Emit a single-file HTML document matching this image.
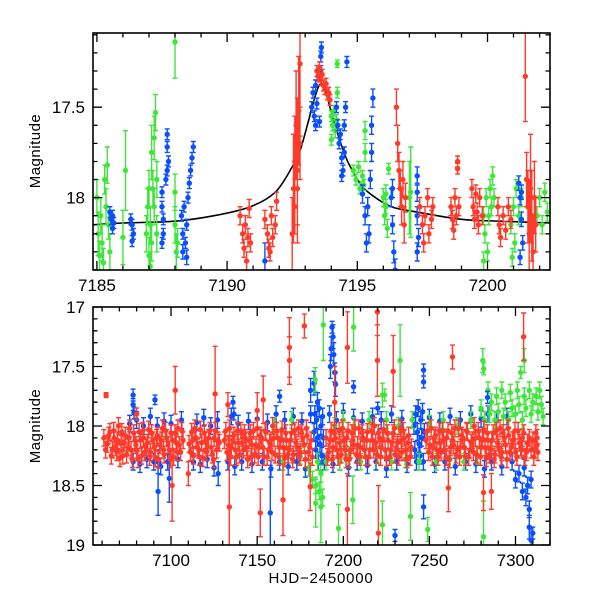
<!DOCTYPE html>
<html><head><meta charset="utf-8"><style>
html,body{margin:0;padding:0;background:#fff}
svg{display:block;font-family:"Liberation Sans",sans-serif}
</style></head><body>
<svg id="chart" width="600" height="600" viewBox="0 0 600 600" xmlns="http://www.w3.org/2000/svg">
<defs>
<clipPath id="clipTop"><rect x="93" y="33" width="457" height="237"/></clipPath>
<clipPath id="clipBot"><rect x="93" y="307" width="457" height="238"/></clipPath>
</defs>
<g id="top"></g>
<g id="bot"></g>
<text x="40" y="151" transform="rotate(-90 40 151)" text-anchor="middle" font-size="15" letter-spacing="0.5">Magnitude</text>
<text x="40" y="426" transform="rotate(-90 40 426)" text-anchor="middle" font-size="15" letter-spacing="0.5">Magnitude</text>
<text x="321" y="583" text-anchor="middle" font-size="15" letter-spacing="0.8">HJD−2450000</text>
</svg>
<script>
// ---------- top panel data [t, mag, err] ----------
const greenTop = [
[7185.0,18.0,.1],[7185.05,18.2,.12],[7185.1,18.32,.08],[7185.15,18.1,.1],[7185.2,18.25,.1],[7185.25,18.36,.08],[7185.3,17.9,.08],[7185.35,18.05,.1],[7185.4,17.82,.1],[7185.45,18.15,.08],[7185.5,18.3,.1],
[7186.0,18.22,.15],[7186.1,17.85,.22],
[7186.9,18.2,.1],[7186.95,18.05,.1],[7187.0,18.32,.1],[7187.0,17.95,.1],[7187.05,18.15,.1],[7187.1,17.75,.15],[7187.1,18.25,.1],[7187.15,17.95,.1],[7187.2,18.05,.1],[7187.2,17.67,.12],[7187.25,17.53,.1],[7187.3,17.9,.1],[7187.3,18.2,.1],[7187.05,18.38,.08],
[7188.0,17.14,.2],[7188.0,18.15,.1],[7188.05,18.3,.1],[7188.0,17.97,.1],[7188.1,18.25,.08],
[7194.0,17.55,.03],[7194.05,17.6,.03],[7194.1,17.52,.03],[7194.15,17.63,.04],[7194.2,17.57,.03],[7194.23,17.42,.03],[7194.23,17.26,.02],[7194.0,17.68,.03],
[7194.85,17.85,.03],[7194.95,17.9,.03],[7195.05,17.83,.03],[7195.1,17.95,.03],[7195.2,17.88,.03],[7195.25,17.93,.03],[7195.3,17.63,.05],[7195.3,17.75,.05],
[7196.0,18.0,.05],[7196.05,18.1,.05],[7196.1,17.98,.05],[7196.15,18.17,.05],[7196.2,17.84,.03],[7196.1,18.05,.04],
[7197.0,18.0,.2],[7197.05,17.97,.25],
[7199.85,18.1,.05],[7199.9,18.2,.05],[7199.95,18.0,.05],[7200.0,18.3,.05],[7200.05,18.1,.05],[7200.1,17.95,.05],[7200.15,18.05,.05],[7200.2,17.88,.05],[7200.25,18.0,.05],[7199.85,18.35,.05],
[7200.9,18.15,.05],[7201.0,18.05,.05],[7201.05,18.25,.05],[7201.1,17.95,.05],[7201.2,18.1,.05],[7201.3,18.0,.05],[7200.95,18.33,.05],
[7201.9,18.1,.05],[7202.0,18.0,.05],[7202.1,18.15,.05],[7202.2,17.97,.05],[7202.3,18.08,.05]
];
const blueTop = [
[7185.5,18.08,.03],[7185.55,18.12,.03],[7185.6,18.1,.03],[7185.6,18.17,.03],[7185.65,18.14,.03],
[7186.3,18.12,.03],[7186.35,18.15,.03],[7186.4,18.2,.03],[7186.35,18.24,.03],
[7187.5,17.97,.03],[7187.5,18.05,.03],[7187.55,18.12,.03],[7187.55,18.2,.03],[7187.5,18.25,.03],[7187.7,17.65,.03],[7187.7,17.72,.03],[7187.75,17.8,.03],[7187.7,17.85,.03],[7187.65,17.9,.03],
[7188.25,18.1,.03],[7188.3,18.2,.03],[7188.3,18.3,.04],[7188.35,18.05,.03],[7188.4,18.25,.03],[7188.45,18.15,.03],[7188.5,18.0,.03],[7188.55,17.92,.03],[7188.6,17.85,.03],[7188.65,17.78,.03],[7188.7,17.72,.03],[7188.45,18.33,.04],
[7191.45,18.35,.1],
[7193.25,17.5,.03],[7193.3,17.42,.03],[7193.35,17.55,.03],[7193.4,17.38,.03],[7193.45,17.48,.03],[7193.5,17.33,.03],[7193.55,17.58,.03],[7193.6,17.3,.03],[7193.6,17.22,.03],[7193.62,17.17,.03],[7193.4,17.6,.03],
[7194.6,17.25,.03],
[7194.2,17.5,.03],[7194.25,17.6,.03],[7194.3,17.7,.03],[7194.35,17.65,.03],[7194.4,17.78,.03],[7194.45,17.85,.03],[7194.5,17.75,.03],[7194.55,17.5,.03],[7194.5,17.6,.03],[7194.4,17.88,.03],
[7195.2,17.98,.05],[7195.3,18.1,.05],[7195.35,18.25,.05],[7195.4,18.05,.05],[7195.5,17.9,.05],[7195.55,17.6,.05],[7195.6,17.45,.05],[7195.45,18.2,.05],[7195.55,17.75,.05],
[7196.3,18.0,.05],[7196.35,18.15,.05],[7196.4,18.3,.06],[7196.45,18.4,.06],[7196.35,17.95,.05],
[7197.3,17.88,.05],[7197.3,18.1,.05],[7197.35,18.22,.05],[7197.3,18.3,.05],[7197.3,17.97,.05],
[7201.2,17.92,.04],[7201.25,18.0,.04],[7201.3,18.12,.04],[7201.35,18.25,.04],[7201.25,18.33,.04],[7201.3,17.97,.04]
];
const redTop = [
[7190.5,18.1,.05],[7190.6,18.2,.05],[7190.65,18.28,.05],[7190.7,18.15,.05],[7190.75,18.35,.05],[7190.8,18.22,.05],[7190.85,18.06,.05],[7190.9,18.25,.05],
[7191.45,18.12,.05],[7191.55,18.2,.05],[7191.6,18.28,.05],[7191.7,18.1,.05],[7191.75,18.22,.05],[7191.85,18.15,.05],[7191.9,18.02,.05],[7191.65,18.3,.05],
[7192.5,18.2,.2],[7192.55,17.95,.3],[7192.6,17.8,.25],[7192.65,17.6,.3],[7192.7,17.85,.4],[7192.75,17.52,.3],[7192.8,17.26,.4],[7192.8,17.7,.2],[7192.6,18.05,.15],[7192.7,17.95,.2],
[7193.45,17.3,.03],[7193.5,17.33,.03],[7193.55,17.28,.03],[7193.6,17.35,.03],[7193.65,17.32,.03],[7193.7,17.38,.03],[7193.75,17.4,.03],[7193.8,17.37,.03],[7193.85,17.43,.03],[7193.9,17.42,.03],[7193.95,17.46,.03],
[7196.5,17.5,.1],[7196.55,17.7,.1],[7196.6,17.85,.1],[7196.65,17.95,.1],[7196.7,18.05,.1],[7196.75,17.9,.1],[7196.8,18.15,.1],[7196.85,18.0,.08],
[7197.4,18.05,.05],[7197.5,18.15,.05],[7197.55,18.25,.05],[7197.6,18.1,.05],[7197.7,18.0,.05],[7197.75,18.2,.05],[7197.85,18.12,.05],[7197.9,18.05,.05],
[7198.6,18.05,.05],[7198.65,18.12,.05],[7198.7,18.18,.05],[7198.75,18.0,.05],[7198.8,18.1,.05],[7198.85,17.8,.03],[7198.85,17.84,.03],[7198.9,18.05,.05],
[7199.4,17.95,.05],[7199.45,18.05,.05],[7199.5,18.12,.05],[7199.55,17.98,.05],[7199.6,18.08,.05],[7199.65,18.15,.05],[7199.7,18.0,.05],[7199.8,18.1,.05],
[7200.4,18.05,.05],[7200.45,18.15,.05],[7200.5,18.22,.05],[7200.6,18.1,.05],[7200.7,18.18,.05],[7200.8,18.05,.05],[7200.9,18.12,.05],
[7201.45,17.33,.25],[7201.5,17.9,.15],[7201.55,18.05,.2],[7201.6,18.2,.3],[7201.65,17.95,.3],[7201.7,18.1,.25],[7201.75,18.3,.2],[7201.8,18.0,.2],[7201.85,18.15,.15]
];
// model curve
const modelT = [7184.85,7186,7188,7189.5,7190.9,7191.85,7192.5,7192.8,7193.1,7193.3,7193.5,7193.65,7193.8,7194.1,7194.54,7194.85,7195.2,7195.6,7196.3,7197.3,7199,7200.5,7202.4];
const modelM = [18.15,18.14,18.13,18.10,18.05,17.97,17.83,17.74,17.59,17.48,17.39,17.37,17.42,17.58,17.77,17.86,17.94,17.99,18.05,18.08,18.12,18.13,18.14];

// ---------- bottom panel data ----------
const redBand = [[7061,18.1],[7063,18.15],[7064.5,18.05],[7066,18.2],[7067,18.1],[7068.5,18.22],[7069.5,18.0],[7071,18.15],[7072,18.25],[7073.5,18.08],[7075,18.18],[7076,18.02],[7077.5,18.28],[7079,18.12],[7080,18.2],[7081.5,18.05],[7083,18.25],[7084,18.1],[7085.5,18.18],[7087,18.03],[7088,18.22],[7089.5,18.12],[7091,18.27],[7092,18.08],[7093.5,18.16],[7095,18.02],[7096,18.24],[7097.5,18.1],[7099,18.2],[7100,18.06],[7101.5,18.26],[7103,18.14],[7104,18.02],[7105.5,18.22],[7107,18.12],
[7110.5,18.15],[7112,18.05],[7113,18.25],[7114.5,18.1],[7116,18.2],[7117,18.03],[7118.5,18.27],[7120,18.12],[7121,18.18],[7122.5,18.04],[7124,18.24],[7125,18.1],[7126.5,18.2],[7128,18.14],
[7131,18.12],[7132.5,18.22],[7134,18.02],[7135,18.18],[7136.5,18.08],[7138,18.26],[7139,18.14],[7140.5,18.04],[7142,18.2],[7143,18.1],[7144.5,18.28],[7146,18.06],[7147,18.16],[7148.5,18.24],[7150,18.02],[7151,18.18],[7152.5,18.1],[7154,18.26],[7155,18.05],[7156.5,18.2],[7158,18.12],[7159,18.0],[7160.5,18.24],[7162,18.1],[7163,18.18],[7164.5,18.03],[7166,18.27],[7167,18.12],[7168.5,18.2],[7170,18.06],[7171,18.24],[7172.5,18.14],[7174,18.02],[7175,18.22],[7176.5,18.1],[7178,18.28],[7179,18.08],[7180.5,18.18],[7182,18.26],
[7190,18.1],[7191.5,18.22],[7193,18.04],[7194,18.18],[7195.5,18.1],[7197,18.26],[7198,18.14],[7199.5,18.02],[7201,18.2],[7202,18.1],[7203.5,18.28],[7205,18.06],[7206,18.16],[7207.5,18.24],[7209,18.02],[7210,18.18],[7211.5,18.1],[7213,18.26],[7214,18.05],[7215.5,18.2],[7217,18.12],[7218,18.0],[7219.5,18.24],[7221,18.1],[7222,18.18],[7223.5,18.03],[7225,18.27],[7226,18.12],[7227.5,18.2],[7229,18.06],[7230,18.24],[7231.5,18.14],[7233,18.02],[7234,18.22],[7235.5,18.1],[7237,18.28],[7238,18.08],[7239.5,18.18],
[7248,18.12],[7249.5,18.22],[7251,18.02],[7252,18.18],[7253.5,18.08],[7255,18.26],[7256,18.14],[7257.5,18.04],[7259,18.2],[7260,18.1],[7261.5,18.28],[7263,18.06],[7264,18.16],[7265.5,18.24],[7267,18.02],[7268,18.18],[7269.5,18.1],[7271,18.26],[7272,18.05],[7273.5,18.2],[7275,18.12],[7276,18.0],[7277.5,18.24],[7279,18.1],[7280,18.18],[7281.5,18.03],[7283,18.27],[7284,18.12],[7285.5,18.2],[7287,18.06],[7288,18.24],[7289.5,18.14],[7291,18.02],[7292,18.22],[7293.5,18.1],[7295,18.28],[7296,18.08],[7297.5,18.18],[7299,18.12],[7300,18.22],[7301.5,18.04],[7303,18.18],[7304,18.1],[7305.5,18.26],[7307,18.14],[7310,18.12],[7311,18.2],[7312.5,18.1],[7313,18.22]];
const redBand2 = [[7062,18.2],[7063.8,18.08],[7065.3,18.25],[7066.7,18.04],[7068,18.18],[7069,18.12],[7070.3,18.27],[7071.5,18.05],[7072.8,18.14],[7074.2,18.24],[7075.6,18.1],[7076.8,18.2],[7078.3,18.06],[7079.6,18.16],[7080.8,18.28],[7082.3,18.12],[7083.6,18.04],[7084.8,18.22],[7086.3,18.14],[7087.6,18.26],[7088.8,18.06],[7090.3,18.18],[7091.6,18.1],[7092.8,18.28],[7094.3,18.12],[7095.6,18.2],[7096.8,18.04],[7098.3,18.16],[7099.6,18.28],[7100.8,18.12],[7102.3,18.06],[7103.6,18.22],[7104.8,18.16],[7106.3,18.04],
[7111.3,18.22],[7112.6,18.12],[7113.8,18.02],[7115.3,18.18],[7116.6,18.26],[7117.8,18.14],[7119.3,18.06],[7120.6,18.22],[7121.8,18.1],[7123.3,18.18],[7124.6,18.28],[7125.8,18.04],[7127.3,18.12],
[7131.8,18.04],[7133.3,18.16],[7134.6,18.26],[7135.8,18.12],[7137.3,18.2],[7138.6,18.04],[7139.8,18.24],[7141.3,18.14],[7142.6,18.06],[7143.8,18.18],[7145.3,18.12],[7146.6,18.26],[7147.8,18.04],[7149.3,18.16],[7150.6,18.26],[7151.8,18.08],[7153.3,18.18],[7154.6,18.04],[7155.8,18.26],[7157.3,18.14],[7158.6,18.22],[7159.8,18.1],[7161.3,18.04],[7162.6,18.26],[7163.8,18.12],[7165.3,18.18],[7166.6,18.06],[7167.8,18.24],[7169.3,18.12],[7170.6,18.28],[7171.8,18.04],[7173.3,18.18],[7174.6,18.26],[7175.8,18.06],[7177.3,18.16],[7178.6,18.02],[7179.8,18.22],[7181.3,18.12],
[7190.8,18.26],[7192.3,18.12],[7193.6,18.28],[7194.8,18.06],[7196.3,18.2],[7197.6,18.04],[7198.8,18.24],[7200.3,18.12],[7201.6,18.28],[7202.8,18.04],[7204.3,18.2],[7205.6,18.12],[7206.8,18.02],[7208.3,18.16],[7209.6,18.26],[7210.8,18.06],[7212.3,18.2],[7213.6,18.12],[7214.8,18.26],[7216.3,18.04],[7217.6,18.2],[7218.8,18.14],[7220.3,18.06],[7221.6,18.26],[7222.8,18.12],[7224.3,18.2],[7225.6,18.06],[7226.8,18.26],[7228.3,18.14],[7229.6,18.02],[7230.8,18.18],[7232.3,18.26],[7233.6,18.12],[7234.8,18.04],[7236.3,18.2],[7237.6,18.14],[7238.8,18.26],
[7248.8,18.04],[7250.3,18.16],[7251.6,18.26],[7252.8,18.1],[7254.3,18.2],[7255.6,18.04],[7256.8,18.22],[7258.3,18.12],[7259.6,18.26],[7260.8,18.04],[7262.3,18.18],[7263.6,18.12],[7264.8,18.02],[7266.3,18.2],[7267.6,18.26],[7268.8,18.08],[7270.3,18.18],[7271.6,18.04],[7272.8,18.26],[7274.3,18.14],[7275.6,18.22],[7276.8,18.1],[7278.3,18.04],[7279.6,18.26],[7280.8,18.12],[7282.3,18.18],[7283.6,18.06],[7284.8,18.24],[7286.3,18.12],[7287.6,18.28],[7288.8,18.04],[7290.3,18.18],[7291.6,18.26],[7292.8,18.06],[7294.3,18.16],[7295.6,18.02],[7296.8,18.22],[7298.3,18.12],[7299.6,18.04],[7300.8,18.26],[7302.3,18.14],[7303.6,18.2],[7304.8,18.06],[7306.3,18.22],[7308,18.1],[7309,18.2],[7310.6,18.26],[7311.8,18.06],[7312.2,18.16]];
const redOut = [[7062.3,17.74,.02],[7102.4,17.7,.2],[7100.6,18.5,.3],[7125.6,17.73,.4],[7133.8,18.68,.6],[7133,17.82,.1],[7177.4,17.16,.1],[7168.7,17.34,.25],[7168.7,17.45,.2],[7202.4,17.34,.3],[7219.8,17.04,.2],[7219.8,17.45,.3],[7229,17.54,.3],[7153.5,17.78,.2],[7150,17.87,.15],[7151.8,18.73,.2],[7165,18.62,.3],[7180.8,18.51,.2],[7202.4,18.7,.3],[7220.4,18.9,.4],[7263.4,17.42,.1],[7261,18.52,.2],[7304.7,17.25,.2],[7281.4,18.56,.15],[7286,18.55,.15],[7080,17.9,.05],[7110,18.4,.1],[7195,17.8,.3]];
const blueBand = [[7076,17.98],[7078,18.3],[7080,17.95],[7082,18.32],[7084,18.0],[7086,18.28],[7088,17.92],[7090,18.3],[7092,18.0],[7094,18.34],[7096,17.96],[7098,18.3],[7100,17.98],[7104,18.28],[7106,17.95],[7113,18.3],[7115,17.97],[7117,18.32],[7119,17.93],[7121,18.28],[7123,18.0],[7125,18.35],[7127,17.95],[7133,18.3],[7135,17.92],[7137,18.34],[7139,17.98],[7141,18.3],[7145,17.96],[7147,18.32],[7150,17.94],[7153,18.3],[7156,17.97],[7158,18.36],[7161,17.9],[7163,18.3],[7166,17.95],[7168,18.34],[7171,17.92],[7173,18.3],[7176,17.96],[7178,18.36],[7181,17.9],
[7183,18.05],[7183.5,17.9],[7184,18.2],[7184.5,17.95],[7185,18.1],[7185.5,18.3],[7186,17.85],[7186.5,18.15],[7187,18.0],[7187.5,18.25],[7188,17.92],[7188.5,18.1],[7189,18.3],
[7192,17.9],[7194,18.32],[7196,17.95],[7198,18.3],[7200,17.88],[7203,18.35],[7206,17.93],[7208,18.3],[7211,17.96],[7214,18.33],[7217,17.92],[7219,18.3],[7222,17.95],[7225,18.36],[7228,17.9],[7231,18.3],[7234,17.94],[7237,18.32],
[7241,18.0],[7241.5,18.2],[7242,17.9],[7242.5,18.3],[7243,18.05],[7243.5,17.85],[7244,18.15],[7244.5,18.25],[7245,17.95],[7245.5,18.1],[7246,17.88],[7246.5,18.3],[7247,18.05],
[7250,17.93],[7253,18.32],[7256,17.96],[7259,18.3],[7262,17.92],[7265,18.34],[7268,17.95],[7271,18.3],[7274,17.9],[7277,18.32],[7280,17.94],[7282,18.36],[7284,17.9],[7286,18.3],[7289,17.95],[7292,18.34],[7295,17.92],[7298,18.3],[7300,18.45],[7302,18.4],[7304,18.55],[7305,18.35],[7306,18.6],[7307,18.5],[7308,18.7],[7309,18.45]];
const blueOut = [[7078,17.74,.05],[7078,17.82,.05],[7078.5,17.89,.05],[7090.7,17.78,.04],[7092.5,18.3,.1],[7092.5,18.55,.2],[7099,18.44,.2],[7127.4,18.4,.1],[7136,17.8,.05],[7136.5,17.9,.05],[7157.6,18.73,.4],[7163,17.75,.05],[7181,17.7,.1],[7183,17.64,.1],[7185,17.8,.08],[7192.5,17.5,.1],[7193,17.35,.1],[7193.5,17.17,.05],[7194,17.25,.1],[7194.5,17.4,.1],[7195,17.55,.08],[7195.5,17.65,.1],[7206,17.67,.05],[7220,17.85,.05],[7246.6,17.53,.05],[7246.6,17.63,.05],[7246.6,18.68,.1],[7283.7,17.76,.05],[7230,18.92,.05],[7309,18.96,.1],[7308,18.85,.1],[7310,18.9,.05]];
const greenBand = [[7160,18.0],[7165,18.3],[7170,17.95],[7175,18.25],[7180,18.35],[7182,18.45],[7184,18.5],[7185,18.3],[7186,18.55],[7187,18.4],[7188,18.6],[7190,18.3],[7195,18.0],[7198,18.3],[7200,17.95],[7203,18.25],[7206,18.0],[7210,18.3],[7215,17.95],[7220,18.25],[7225,17.95],[7228,18.3],[7232,18.0],[7236,18.28],[7240,17.95],[7244,18.3],[7250,17.98],[7254,18.3],[7258,17.95],[7262,18.28],[7266,18.0],[7270,18.3],[7274,17.95],[7278,18.25],
[7280,17.85],[7282,17.95],[7284,17.7],[7285,17.9],[7286,17.8],[7288,17.95],[7289,17.75],[7290,17.88],[7292,17.7],[7293,17.92],[7294,17.8],[7296,17.95],[7297,17.72],[7298,17.85],[7300,17.9],[7301,17.7],[7302,17.82],[7304,17.95],[7305,17.75],[7306,17.85],[7308,17.7],[7309,17.9],[7310,17.8],[7312,17.75],[7313,17.88],[7314,17.7],[7315,17.82],[7316,17.92]];
const greenOut = [[7188.4,17.15,.3],[7183.7,17.61,.1],[7184,18.65,.2],[7187,18.68,.3],[7206,17.17,.2],[7205.5,18.62,.2],[7197.2,18.86,.2],[7222.7,17.74,.1],[7222.7,18.83,.2],[7233,17.45,.3],[7239,18.76,.2],[7249,18.87,.1],[7281,17.45,.1],[7281.5,17.52,.05],[7281.4,18.93,.3],[7224,17.74,.05],[7303,17.55,.05],[7305,17.45,.1]];
const bandErr = 0.07;

// ticks
const topXLabels = [7185,7190,7195,7200];
const topYLabels = [17.5,18];
const botXLabels = [7100,7150,7200,7250,7300];
const botYLabels = [17,17.5,18,18.5,19];

const NS='http://www.w3.org/2000/svg';
const COL={red:'#ff3a2a',blue:'#0a4fff',green:'#3ee63a'};
function lin(d0,d1,r0,r1){return v=>r0+(v-d0)/(d1-d0)*(r1-r0);}
const P={
 top:{x:lin(7184.85,7202.4,93,550),y:lin(17.09,18.40,33,270),x0:7184.85,x1:7202.4,y0:17.09,y1:18.40,L:93,R:550,T:33,B:270},
 bot:{x:lin(7054.7,7320,93,550),y:lin(17,19,307,545),x0:7054.7,x1:7320,y0:17,y1:19,L:93,R:550,T:307,B:545}
};
function mk(tag,attrs,parent){const e=document.createElementNS(NS,tag);for(const k in attrs)e.setAttribute(k,attrs[k]);parent.appendChild(e);return e;}

function drawPoints(g,p,pts,color,name,defErr){
  const grp=mk('g',{'clip-path':g.id==='top'?'url(#clipTop)':'url(#clipBot)'},g);
  
  
  let d='';
  pts.forEach(q=>{
    const e=q.length>2?q[2]:defErr;
    const cx=p.x(q[0]),y1=p.y(q[1]-e),y2=p.y(q[1]+e);
    d+=`M${cx.toFixed(1)} ${y1.toFixed(1)}V${y2.toFixed(1)}M${(cx-2.5).toFixed(1)} ${y1.toFixed(1)}h5M${(cx-2.5).toFixed(1)} ${y2.toFixed(1)}h5`;
  });
  const path=mk('path',{d:d,stroke:color,'stroke-width':1.4,fill:'none'},grp);
  
  
  pts.forEach(q=>{
    const c=mk('circle',{cx:p.x(q[0]).toFixed(1),cy:p.y(q[1]).toFixed(1),r:2.7,fill:color},grp);
    
    
  });
}

function axes(g,p,xLabels,xMinor,xMajor,yLabels,yMinor,yMajor,yFmt){
  const fr=mk('rect',{x:p.L,y:p.T,width:p.R-p.L,height:p.B-p.T,fill:'none',stroke:'#000','stroke-width':1.6},g);
  
  
  let d='';
  const xs=Math.ceil(p.x0/xMinor)*xMinor;
  for(let v=xs;v<=p.x1+1e-9;v+=xMinor){
    const vv=Math.round(v*1000)/1000;
    const maj=Math.abs(vv/xMajor-Math.round(vv/xMajor))<1e-6;
    const L=maj?9:4.5, X=p.x(vv).toFixed(1);
    d+=`M${X} ${p.B}v${-L}M${X} ${p.T}v${L}`;
  }
  const ys=Math.ceil(p.y0/yMinor-1e-9)*yMinor;
  for(let v=ys;v<=p.y1+1e-9;v+=yMinor){
    const vv=Math.round(v*1000)/1000;
    const maj=Math.abs(vv/yMajor-Math.round(vv/yMajor))<1e-6;
    const L=maj?9:4.5, Y=p.y(vv).toFixed(1);
    d+=`M${p.L} ${Y}h${L}M${p.R} ${Y}h${-L}`;
  }
  const tk=mk('path',{d:d,stroke:'#000','stroke-width':1.3,fill:'none'},g);
  
  
  xLabels.forEach(v=>{
    const t=mk('text',{x:p.x(v),y:p.B+21,'text-anchor':'middle','font-size':17},g);
    t.textContent=v;
    
    
  });
  yLabels.forEach(v=>{
    const t=mk('text',{x:p.L-8,y:p.y(v)+6,'text-anchor':'end','font-size':17},g);
    t.textContent=yFmt(v);
    
    
  });
}

// top panel
const gTop=document.getElementById('top');
(function(){
  const p=P.top;
  const X=modelT.map(p.x), Y=modelM.map(p.y);
  let d=`M${X[0].toFixed(1)} ${Y[0].toFixed(1)}`;
  for(let i=0;i<X.length-1;i++){
    const x0=X[Math.max(i-1,0)],y0=Y[Math.max(i-1,0)],x3=X[Math.min(i+2,X.length-1)],y3=Y[Math.min(i+2,X.length-1)];
    const c1x=X[i]+(X[i+1]-x0)/6,c1y=Y[i]+(Y[i+1]-y0)/6,c2x=X[i+1]-(x3-X[i])/6,c2y=Y[i+1]-(y3-Y[i])/6;
    d+=`C${c1x.toFixed(1)} ${c1y.toFixed(1)} ${c2x.toFixed(1)} ${c2y.toFixed(1)} ${X[i+1].toFixed(1)} ${Y[i+1].toFixed(1)}`;
  }
  const g=mk('g',{'clip-path':'url(#clipTop)'},gTop);
  const c=mk('path',{d:d,stroke:'#000','stroke-width':1.6,fill:'none'},g);
  
  
})();
drawPoints(gTop,P.top,greenTop,COL.green,'green-series',0.05);
drawPoints(gTop,P.top,blueTop,COL.blue,'blue-series',0.05);
drawPoints(gTop,P.top,redTop,COL.red,'red-series',0.05);
axes(gTop,P.top,topXLabels,1,5,topYLabels,0.1,0.5,v=>String(v));

// bottom panel
const gBot=document.getElementById('bot');
drawPoints(gBot,P.bot,blueBand,COL.blue,'blue-band',bandErr);
drawPoints(gBot,P.bot,greenBand,COL.green,'green-band',bandErr);
drawPoints(gBot,P.bot,blueOut,COL.blue,'blue-outliers',0.05);
drawPoints(gBot,P.bot,greenOut,COL.green,'green-outliers',0.05);
drawPoints(gBot,P.bot,redBand,COL.red,'red-band',bandErr);
drawPoints(gBot,P.bot,redBand2,COL.red,'red-band-2',bandErr);
drawPoints(gBot,P.bot,redOut,COL.red,'red-outliers',0.05);
axes(gBot,P.bot,botXLabels,10,50,botYLabels,0.1,0.5,v=>String(v));
</script>
</body></html>
